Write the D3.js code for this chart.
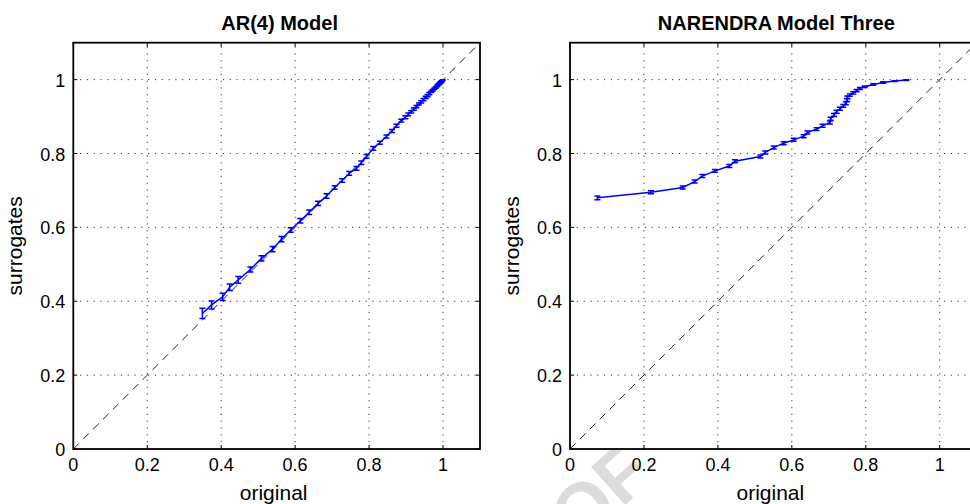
<!DOCTYPE html>
<html>
<head>
<meta charset="utf-8">
<title>Surrogates vs original</title>
<script src="https://cdn.jsdelivr.net/npm/d3@7"></script>
<style>
body { margin: 0; background: #fff; }
svg { font-family: "Liberation Sans", Arial, Helvetica, sans-serif; }
.grid line { stroke: #333; stroke-width: 1; stroke-dasharray: 1.2,5.6; }
.frame { fill: none; stroke: #000; stroke-width: 1.8; }
.tick-lbl { font-size: 18px; fill: #000; }
.ax-lbl { font-size: 21px; fill: #000; }
.title { font-size: 20px; font-weight: bold; fill: #000; }
</style>
</head>
<body>
<script>
// ---- data ----
var ticks = [0, 0.2, 0.4, 0.6, 0.8, 1];
var tickLabels = ["0", "0.2", "0.4", "0.6", "0.8", "1"];

var arX = [0.349, 0.374, 0.404, 0.423, 0.446, 0.479, 0.509, 0.539, 0.563, 0.588,
           0.614, 0.638, 0.662, 0.685, 0.707, 0.727, 0.746, 0.766, 0.779, 0.793,
           0.811, 0.829, 0.847, 0.862, 0.874, 0.887, 0.898, 0.906, 0.914, 0.921,
           0.928, 0.935, 0.941, 0.947, 0.953, 0.958, 0.963, 0.968, 0.972, 0.976,
           0.980, 0.984, 0.987, 0.990, 0.993, 0.995, 0.997, 0.999];
var arY = [0.367, 0.390, 0.412, 0.438, 0.458, 0.486, 0.516, 0.541, 0.568, 0.593,
           0.618, 0.641, 0.665, 0.685, 0.708, 0.727, 0.746, 0.760, 0.775, 0.792,
           0.814, 0.829, 0.846, 0.861, 0.875, 0.889, 0.898, 0.906, 0.913, 0.920,
           0.927, 0.934, 0.940, 0.946, 0.952, 0.957, 0.962, 0.967, 0.971, 0.975,
           0.979, 0.983, 0.986, 0.989, 0.992, 0.994, 0.996, 0.999];
var arErr = [0.014, 0.011, 0.010, 0.009, 0.009, 0.007, 0.007, 0.007, 0.007, 0.006,
             0.006, 0.006, 0.006, 0.006, 0.005, 0.005, 0.005, 0.005, 0.005, 0.005,
             0.005, 0.004, 0.004, 0.004, 0.004, 0.004, 0.004, 0.004, 0.003, 0.003,
             0.003, 0.003, 0.003, 0.003, 0.003, 0.003, 0.003, 0.002, 0.002, 0.002,
             0.002, 0.002, 0.002, 0.002, 0.002, 0.002, 0.001, 0.001];

var naX = [0.074, 0.219, 0.305, 0.337, 0.358, 0.392, 0.431, 0.446, 0.515, 0.528,
           0.551, 0.578, 0.605, 0.632, 0.642, 0.667, 0.683, 0.703, 0.705, 0.714,
           0.721, 0.730, 0.739, 0.746, 0.750, 0.750, 0.757, 0.766, 0.775, 0.784,
           0.797, 0.820, 0.847, 0.878, 0.910];
var naY = [0.680, 0.695, 0.708, 0.724, 0.739, 0.753, 0.766, 0.779, 0.792, 0.803,
           0.816, 0.828, 0.837, 0.847, 0.857, 0.866, 0.875, 0.884, 0.894, 0.904,
           0.913, 0.921, 0.929, 0.936, 0.945, 0.952, 0.958, 0.964, 0.970, 0.976,
           0.981, 0.987, 0.992, 0.996, 0.999];
var naErr = [0.005, 0.004, 0.004, 0.004, 0.004, 0.004, 0.004, 0.004, 0.004, 0.004,
             0.004, 0.004, 0.004, 0.004, 0.004, 0.004, 0.004, 0.004, 0.004, 0.004,
             0.004, 0.004, 0.004, 0.004, 0.004, 0.004, 0.003, 0.003, 0.003, 0.003,
             0.002, 0.002, 0.002, 0.001, 0.001];

var width = 970, height = 504;
var svg = d3.select("body").append("svg").attr("width", width).attr("height", height);

// watermark (behind everything)
svg.append("text")
  .attr("transform", "translate(655,478) rotate(-42)")
  .attr("text-anchor", "end")
  .style("font-size", "74px").style("font-weight", "bold")
  .style("fill", "#dcdcdc")
  .text("PROOF");

function panel(left, title, xs, ys, es) {
  var x = d3.scaleLinear().domain([0, 1.1]).range([left, left + 406.7]);
  var y = d3.scaleLinear().domain([0, 1.1]).range([449, 42.7]);
  var g = svg.append("g");

  g.append("rect").attr("x", x(0)).attr("y", y(1.1))
    .attr("width", x(1.1) - x(0)).attr("height", y(0) - y(1.1))
    .attr("fill", "#fff");

  // grid
  var grid = g.append("g").attr("class", "grid");
  grid.selectAll("line.v").data(ticks.slice(1)).enter().append("line")
    .attr("x1", d => x(d)).attr("x2", d => x(d))
    .attr("y1", y(0)).attr("y2", y(1.1));
  grid.selectAll("line.h").data(ticks.slice(1)).enter().append("line")
    .attr("x1", x(0)).attr("x2", x(1.1))
    .attr("y1", d => y(d)).attr("y2", d => y(d));

  // diagonal reference
  g.append("line")
    .attr("x1", x(0)).attr("y1", y(0)).attr("x2", x(1.1)).attr("y2", y(1.1))
    .attr("stroke", "#222").attr("stroke-width", 1).attr("stroke-dasharray", "8,6");

  // data line
  var pts = xs.map((v, i) => [v, ys[i], es[i]]);
  g.append("path").datum(pts)
    .attr("fill", "none").attr("stroke", "#0000ff").attr("stroke-width", 1.5)
    .attr("d", d3.line().x(d => x(d[0])).y(d => y(d[1])));

  // error bars
  var eb = g.append("g").attr("stroke", "#0000ff").attr("stroke-width", 1.5);
  eb.selectAll("path").data(pts).enter().append("path")
    .attr("fill", "none")
    .attr("d", function(d) {
      var cx = x(d[0]), t = y(d[1] + d[2]), b = y(d[1] - d[2]), w = 3;
      return "M" + (cx - w) + "," + t + "H" + (cx + w) +
             "M" + cx + "," + t + "V" + b +
             "M" + (cx - w) + "," + b + "H" + (cx + w);
    });

  // inward ticks on all sides
  var tk = g.append("g").attr("stroke", "#000").attr("stroke-width", 1);
  ticks.forEach(function(t) {
    tk.append("line").attr("x1", x(t)).attr("x2", x(t)).attr("y1", y(0)).attr("y2", y(0) - 4);
    tk.append("line").attr("x1", x(t)).attr("x2", x(t)).attr("y1", y(1.1)).attr("y2", y(1.1) + 4);
    tk.append("line").attr("y1", y(t)).attr("y2", y(t)).attr("x1", x(0)).attr("x2", x(0) + 4);
    tk.append("line").attr("y1", y(t)).attr("y2", y(t)).attr("x1", x(1.1)).attr("x2", x(1.1) - 4);
  });

  g.append("rect").attr("class", "frame")
    .attr("x", x(0)).attr("y", y(1.1))
    .attr("width", x(1.1) - x(0)).attr("height", y(0) - y(1.1));

  // tick labels
  g.selectAll("text.xl").data(ticks).enter().append("text")
    .attr("class", "tick-lbl").attr("text-anchor", "middle")
    .attr("x", d => x(d)).attr("y", y(0) + 22)
    .text((d, i) => tickLabels[i]);
  g.selectAll("text.yl").data(ticks).enter().append("text")
    .attr("class", "tick-lbl").attr("text-anchor", "end")
    .attr("x", x(0) - 8).attr("y", d => y(d) + 7)
    .text((d, i) => tickLabels[i]);

  g.append("text").attr("class", "ax-lbl").attr("text-anchor", "middle")
    .attr("x", (x(0) + x(1.1)) / 2 - 3).attr("y", 500).text("original");
  g.append("text").attr("class", "ax-lbl").attr("text-anchor", "middle")
    .attr("transform", "translate(" + (x(0) - 51) + "," + y(0.55) + ") rotate(-90)")
    .text("surrogates");
  g.append("text").attr("class", "title").attr("text-anchor", "middle")
    .attr("x", (x(0) + x(1.1)) / 2 + 3).attr("y", 30).text(title);
}

panel(73.3, "AR(4) Model", arX, arY, arErr);
panel(570, "NARENDRA Model Three", naX, naY, naErr);
</script>
</body>
</html>
